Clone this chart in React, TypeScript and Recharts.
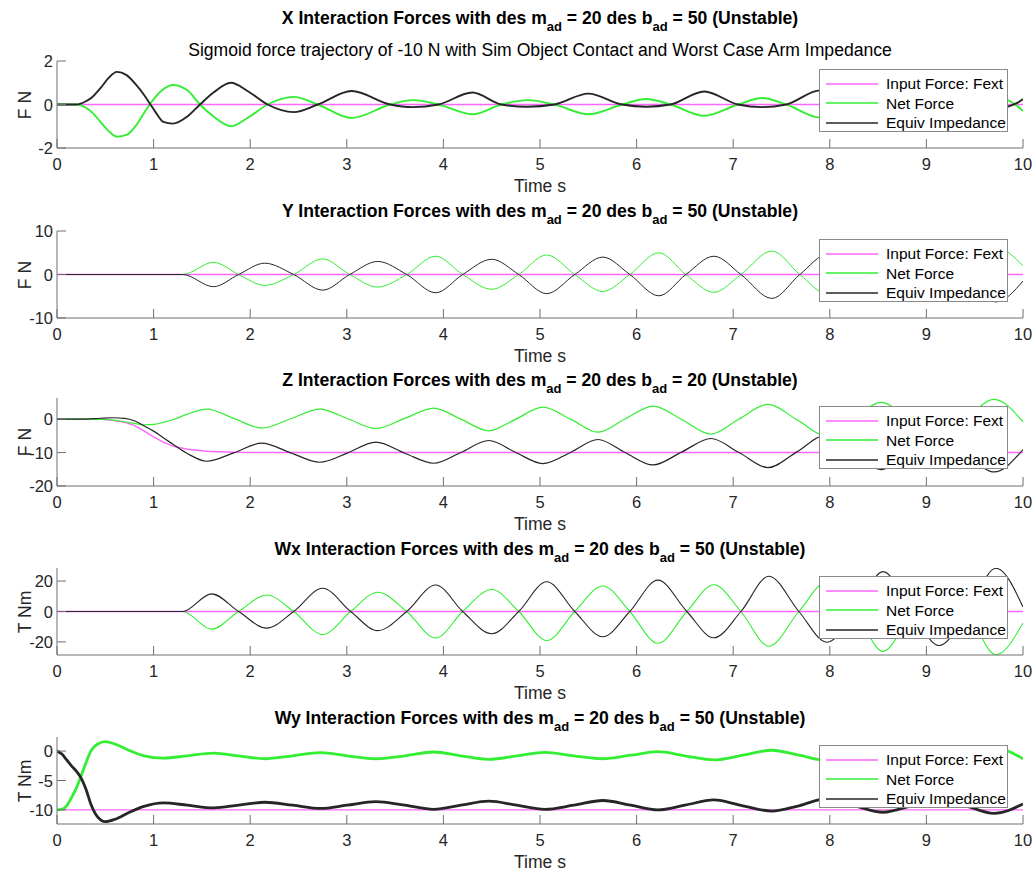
import React from 'react';
import { LineChart, Line, XAxis, YAxis, Legend } from 'recharts';

const FONT = '"Liberation Sans", Arial, Helvetica, sans-serif';
const PINK = '#ff66ff';
const GREEN = '#33ee33';
const BLACK = '#262626';
const AXIS = '#707070';
const TEXT = '#262626';

const TIME_TICKS = [0, 1, 2, 3, 4, 5, 6, 7, 8, 9, 10];
const LEGEND_LABELS = ['Input Force: Fext', 'Net Force', 'Equiv Impedance'];

// ---- X panel ----
const xTime = [0, 0.2, 0.3, 0.36, 0.45, 0.53, 0.62, 0.72, 0.82, 0.9, 0.96, 1.02, 1.1, 1.2, 1.35, 1.48, 1.62, 1.8, 1.98, 2.18, 2.45, 2.7, 3.05, 3.45, 3.68, 3.95, 4.3, 4.6, 4.87, 5.15, 5.5, 5.85, 6.1, 6.35, 6.7, 7.05, 7.3, 7.55, 7.9, 8.25, 8.5, 8.75, 9.1, 9.45, 9.7, 9.95, 10];
const xNet = [0, 0, -0.15, -0.35, -0.8, -1.2, -1.48, -1.4, -0.95, -0.4, 0, 0.35, 0.7, 0.9, 0.65, 0, -0.55, -1.0, -0.6, 0, 0.35, 0, -0.62, 0, 0.2, 0, -0.45, 0, 0.2, 0, -0.45, 0, 0.25, 0, -0.52, 0, 0.3, 0, -0.6, 0, 0.3, 0, -0.65, 0, 0.35, -0.1, -0.3];
const xEquiv = [0, 0, 0.15, 0.32, 0.75, 1.2, 1.5, 1.35, 0.9, 0.45, 0.05, -0.35, -0.8, -0.88, -0.55, 0, 0.55, 1.0, 0.6, 0, -0.35, 0, 0.62, 0, -0.12, 0, 0.55, 0, -0.1, 0, 0.5, 0, -0.1, 0, 0.6, 0, -0.12, 0, 0.65, 0, -0.15, 0, 0.7, 0, -0.2, 0.1, 0.25];
const xFextTime = [0, 10];
const xFext = [0, 0];

// ---- Y panel ----
const yTime = [0, 1.3, 1.62, 1.88, 2.15, 2.45, 2.75, 3.03, 3.32, 3.62, 3.92, 4.2, 4.5, 4.78, 5.07, 5.36, 5.65, 5.93, 6.23, 6.51, 6.8, 7.08, 7.4, 7.69, 7.98, 8.27, 8.56, 8.85, 9.14, 9.43, 9.72, 10];
const yNet = [0, 0, 2.8, 0, -2.5, 0, 3.6, 0, -2.9, 0, 4.2, 0, -3.4, 0, 4.5, 0, -3.9, 0, 5.0, 0, -4.1, 0, 5.4, 0, -4.6, 0, 5.8, 0, -5.0, 0, 6.2, 2.0];
const yEquiv = [0, 0, -2.8, 0, 2.6, 0, -3.6, 0, 3.0, 0, -4.2, 0, 3.5, 0, -4.4, 0, 4.0, 0, -4.9, 0, 4.2, 0, -5.5, 0, 4.7, 0, -5.9, 0, 5.1, 0, -6.3, -1.5];
const yFextTime = [0, 10];
const yFext = [0, 0];

// ---- Z panel ----
const zTime = [0, 0.3, 0.45, 0.58, 0.7, 0.8, 0.9, 1.0, 1.1, 1.2, 1.35, 1.55, 1.83, 2.12, 2.42, 2.72, 3.01, 3.3, 3.6, 3.9, 4.18, 4.47, 4.75, 5.03, 5.32, 5.6, 5.88, 6.17, 6.47, 6.77, 7.06, 7.36, 7.66, 7.95, 8.24, 8.53, 8.82, 9.12, 9.41, 9.7, 10];
const zNet = [0, 0, -0.1, -0.3, -0.8, -1.3, -1.7, -1.6, -1.0, -0.2, 1.5, 3.0, 0.2, -2.7, 0.1, 3.0, 0.1, -2.8, 0.2, 3.3, 0, -3.5, 0, 3.6, -0.1, -3.9, 0, 3.9, -0.2, -4.5, 0, 4.4, -0.2, -4.9, 0, 5.0, -0.2, -5.5, 0.1, 5.9, -0.8];
const zEquiv = [0, 0, 0.25, 0.4, 0.2, -0.5, -2.0, -3.6, -5.6, -7.5, -10.3, -12.6, -10.1, -7.2, -10.1, -12.9, -10.1, -6.9, -10.2, -13.2, -10, -6.4, -10, -13.3, -9.9, -6.1, -10, -13.7, -9.8, -5.8, -10, -14.5, -9.8, -4.9, -10, -15.1, -9.8, -4.5, -10.1, -15.8, -9.1];
const zFextTime = [0, 0.3, 0.45, 0.58, 0.7, 0.8, 0.9, 1.0, 1.1, 1.2, 1.35, 1.55, 1.83, 2.12, 10];
const zFext = [0, 0, -0.1, -0.4, -1.0, -1.9, -3.5, -5.3, -6.9, -8.1, -9.0, -9.6, -9.9, -10, -10];

// ---- Wx panel ----
const wxTime = [0, 1.3, 1.6, 1.88, 2.17, 2.45, 2.75, 3.04, 3.32, 3.62, 3.92, 4.2, 4.5, 4.78, 5.07, 5.36, 5.65, 5.93, 6.22, 6.52, 6.8, 7.08, 7.37, 7.68, 7.97, 8.27, 8.55, 8.85, 9.13, 9.43, 9.72, 10];
const wxNet = [0, 0, -11.6, 0, 10.8, 0, -15.1, 0, 12.7, 0, -17.4, 0, 14.5, 0, -19.1, 0, 16.8, 0, -20.9, 0, 17.6, 0, -22.8, 0, 19.5, 0, -26.2, 0, 22.0, 0, -28.4, -7.5];
const wxEquiv = [0, 0, 11.6, 0, -10.9, 0, 15.3, 0, -12.6, 0, 17.4, 0, -14.6, 0, 19.6, 0, -16.6, 0, 20.6, 0, -17.3, 0, 23.2, 0, -20.2, 0, 26.2, 0, -22.4, 0, 28.4, 3.0];
const wxFextTime = [0, 10];
const wxFext = [0, 0];

// ---- Wy panel ----
const wyTime = [0, 0.05, 0.1, 0.15, 0.2, 0.25, 0.3, 0.35, 0.42, 0.5, 0.6, 0.75, 0.9, 1.1, 1.35, 1.62, 1.88, 2.15, 2.44, 2.73, 3.0, 3.3, 3.6, 3.9, 4.18, 4.47, 4.76, 5.05, 5.35, 5.65, 5.94, 6.22, 6.5, 6.8, 7.1, 7.4, 7.68, 7.97, 8.26, 8.55, 8.84, 9.12, 9.41, 9.7, 10];
const wyNet = [-10, -9.9, -9.3, -7.9, -6.3, -4.2, -2.0, 0.0, 1.2, 1.6, 1.2, 0.1, -0.8, -1.2, -0.8, -0.35, -0.8, -1.3, -0.8, -0.25, -0.8, -1.3, -0.8, -0.15, -0.8, -1.4, -0.8, -0.2, -0.8, -1.3, -0.7, -0.1, -0.8, -1.5, -0.7, 0.15, -0.7, -1.6, -0.7, 0.35, -0.7, -1.7, -0.6, 0.55, -1.3];
const wyEquiv = [0, -0.5, -1.5, -2.5, -3.4, -4.6, -6.5, -9.0, -11.2, -12.0, -11.6, -10.4, -9.4, -8.8, -9.2, -9.65, -9.2, -8.7, -9.2, -9.75, -9.2, -8.6, -9.2, -9.9, -9.2, -8.5, -9.2, -9.9, -9.2, -8.4, -9.2, -10.0, -9.2, -8.3, -9.3, -10.2, -9.3, -8.1, -9.3, -10.4, -9.3, -8.0, -9.3, -10.6, -9.0];
const wyFextTime = [0, 10];
const wyFext = [-10, -10];

const toRows = (t: number[], v: number[]) => t.map((x, i) => ({ t: x, v: v[i] }));

type PanelDef = {
  name: string;
  b: number;
  ylabel: string;
  top: number;
  bottom: number;
  titleY: number;
  domain: [number, number];
  ticks: number[];
  fext: { t: number; v: number }[];
  net: { t: number; v: number }[];
  equiv: { t: number; v: number }[];
  width: number;
};

const PANELS: PanelDef[] = [
  { name: 'X', b: 50, ylabel: 'F N', top: 61, bottom: 148, titleY: 18, domain: [-2, 2], ticks: [-2, 0, 2],
    fext: toRows(xFextTime, xFext), net: toRows(xTime, xNet), equiv: toRows(xTime, xEquiv), width: 1.9 },
  { name: 'Y', b: 50, ylabel: 'F N', top: 231, bottom: 318, titleY: 211, domain: [-10, 10], ticks: [-10, 0, 10],
    fext: toRows(yFextTime, yFext), net: toRows(yTime, yNet), equiv: toRows(yTime, yEquiv), width: 1 },
  { name: 'Z', b: 20, ylabel: 'F N', top: 398, bottom: 486, titleY: 380, domain: [-20, 6.3], ticks: [-20, -10, 0],
    fext: toRows(zFextTime, zFext), net: toRows(zTime, zNet), equiv: toRows(zTime, zEquiv), width: 1.2 },
  { name: 'Wx', b: 50, ylabel: 'T Nm', top: 568, bottom: 655, titleY: 549, domain: [-28.6, 28.6], ticks: [-20, 0, 20],
    fext: toRows(wxFextTime, wxFext), net: toRows(wxTime, wxNet), equiv: toRows(wxTime, wxEquiv), width: 1.1 },
  { name: 'Wy', b: 50, ylabel: 'T Nm', top: 737, bottom: 824, titleY: 718, domain: [-12.4, 2.4], ticks: [-10, -5, 0],
    fext: toRows(wyFextTime, wyFext), net: toRows(wyTime, wyNet), equiv: toRows(wyTime, wyEquiv), width: 2.8 },
];

const W = 1035;
const LEFT = 57;
const RIGHT_MARGIN = 12;
const TOP_PAD = 12;
const BOT_PAD = 30;
const TICK_LEN = 9;

const LegendBox = () => (
  <div
    style={{
      width: 189,
      height: 63,
      border: '1px solid #8a8a8a',
      background: '#ffffff',
      boxSizing: 'border-box',
      position: 'relative',
      fontFamily: FONT,
      fontSize: 15.5,
      color: '#000',
    }}
  >
    {LEGEND_LABELS.map((label, i) => (
      <div
        key={label}
        style={{ position: 'absolute', left: 6, top: 4 + i * 19.5, height: 19, display: 'flex', alignItems: 'center' }}
      >
        <svg width={52} height={4} style={{ display: 'block' }}>
          <line x1={0} x2={52} y1={2} y2={2} stroke={[PINK, GREEN, BLACK][i]} strokeWidth={1.3} />
        </svg>
        <span style={{ marginLeft: 8, whiteSpace: 'nowrap', lineHeight: '19px' }}>{label}</span>
      </div>
    ))}
  </div>
);

const Sub = ({ children }: { children: React.ReactNode }) => (
  <span style={{ fontSize: 13, position: 'relative', top: 7 }}>{children}</span>
);

function Panel({ p }: { p: PanelDef }) {
  const plotH = p.bottom - p.top;
  const H = TOP_PAD + plotH + BOT_PAD;
  const axisY = TOP_PAD + plotH;

  const XTick = (props: any) => {
    const { x, payload } = props;
    return (
      <g>
        <line x1={x} x2={x} y1={axisY} y2={axisY - TICK_LEN} stroke={AXIS} strokeWidth={1} />
        <text x={x} y={axisY + 16} textAnchor="middle" dominantBaseline="central" fontSize={16.5} fill={TEXT} fontFamily={FONT}>
          {payload.value}
        </text>
      </g>
    );
  };
  const YTick = (props: any) => {
    const { y, payload } = props;
    return (
      <g>
        <line x1={LEFT} x2={LEFT + TICK_LEN} y1={y} y2={y} stroke={AXIS} strokeWidth={1} />
        <text x={LEFT - 4} y={y} textAnchor="end" dominantBaseline="central" fontSize={16.5} fill={TEXT} fontFamily={FONT}>
          {payload.value}
        </text>
      </g>
    );
  };

  return (
    <div style={{ position: 'absolute', left: 0, top: p.top - TOP_PAD, width: W, height: H }}>
      <LineChart width={W} height={H} margin={{ top: TOP_PAD, right: RIGHT_MARGIN, left: 0, bottom: 0 }}>
        <XAxis
          type="number"
          dataKey="t"
          domain={[0, 10]}
          ticks={TIME_TICKS}
          interval={0}
          allowDataOverflow
          height={BOT_PAD}
          tickLine={false}
          axisLine={{ stroke: AXIS }}
          tick={(props: any) => <XTick {...props} />}
        />
        <YAxis
          type="number"
          dataKey="v"
          domain={p.domain}
          ticks={p.ticks}
          interval={0}
          allowDataOverflow
          width={LEFT}
          tickLine={false}
          axisLine={{ stroke: AXIS }}
          tick={(props: any) => <YTick {...props} />}
        />
        <Line data={p.fext} dataKey="v" type="linear" stroke={PINK} strokeWidth={1.4} dot={false} isAnimationActive={false} />
        <Line data={p.net} dataKey="v" type="monotone" stroke={GREEN} strokeWidth={p.width} dot={false} isAnimationActive={false} />
        <Line data={p.equiv} dataKey="v" type="monotone" stroke={BLACK} strokeWidth={p.width} dot={false} isAnimationActive={false} />
        <Legend
          layout="vertical"
          align="center"
          verticalAlign="middle"
          content={() => <LegendBox />}
          wrapperStyle={{ position: 'absolute', left: 819, top: TOP_PAD + 8, width: 189, height: 63 }}
        />
      </LineChart>
    </div>
  );
}

export default function App() {
  return (
    <div style={{ position: 'absolute', left: 0, top: 0, width: W, height: 872, background: '#fff', fontFamily: FONT, overflow: 'hidden' }}>
      {PANELS.map((p) => (
        <React.Fragment key={p.name}>
          <div
            style={{
              position: 'absolute', left: 40, width: 1000, top: p.titleY - 11, height: 22, lineHeight: '22px',
              textAlign: 'center', fontWeight: 'bold', fontSize: 17.6, color: '#000', whiteSpace: 'nowrap',
            }}
          >
            {p.name} Interaction Forces with des m<Sub>ad</Sub> = 20 des b<Sub>ad</Sub> = {p.b} (Unstable)
          </div>
          <div
            style={{
              position: 'absolute', left: 25 - 50, top: (p.top + p.bottom) / 2 - 11, width: 100, height: 22, lineHeight: '22px',
              textAlign: 'center', fontSize: 17.6, color: TEXT, transform: 'rotate(-90deg)', whiteSpace: 'nowrap',
            }}
          >
            {p.ylabel}
          </div>
          <div
            style={{
              position: 'absolute', left: 440, width: 200, top: p.bottom + 38 - 11, height: 22, lineHeight: '22px',
              textAlign: 'center', fontSize: 17.6, color: TEXT, whiteSpace: 'nowrap',
            }}
          >
            Time s
          </div>
          <Panel p={p} />
        </React.Fragment>
      ))}
      <div
        style={{
          position: 'absolute', left: 40, width: 1000, top: 50 - 11, height: 22, lineHeight: '22px',
          textAlign: 'center', fontSize: 17.6, color: '#000', whiteSpace: 'nowrap',
        }}
      >
        Sigmoid force trajectory of -10 N with Sim Object Contact and Worst Case Arm Impedance
      </div>
    </div>
  );
}
